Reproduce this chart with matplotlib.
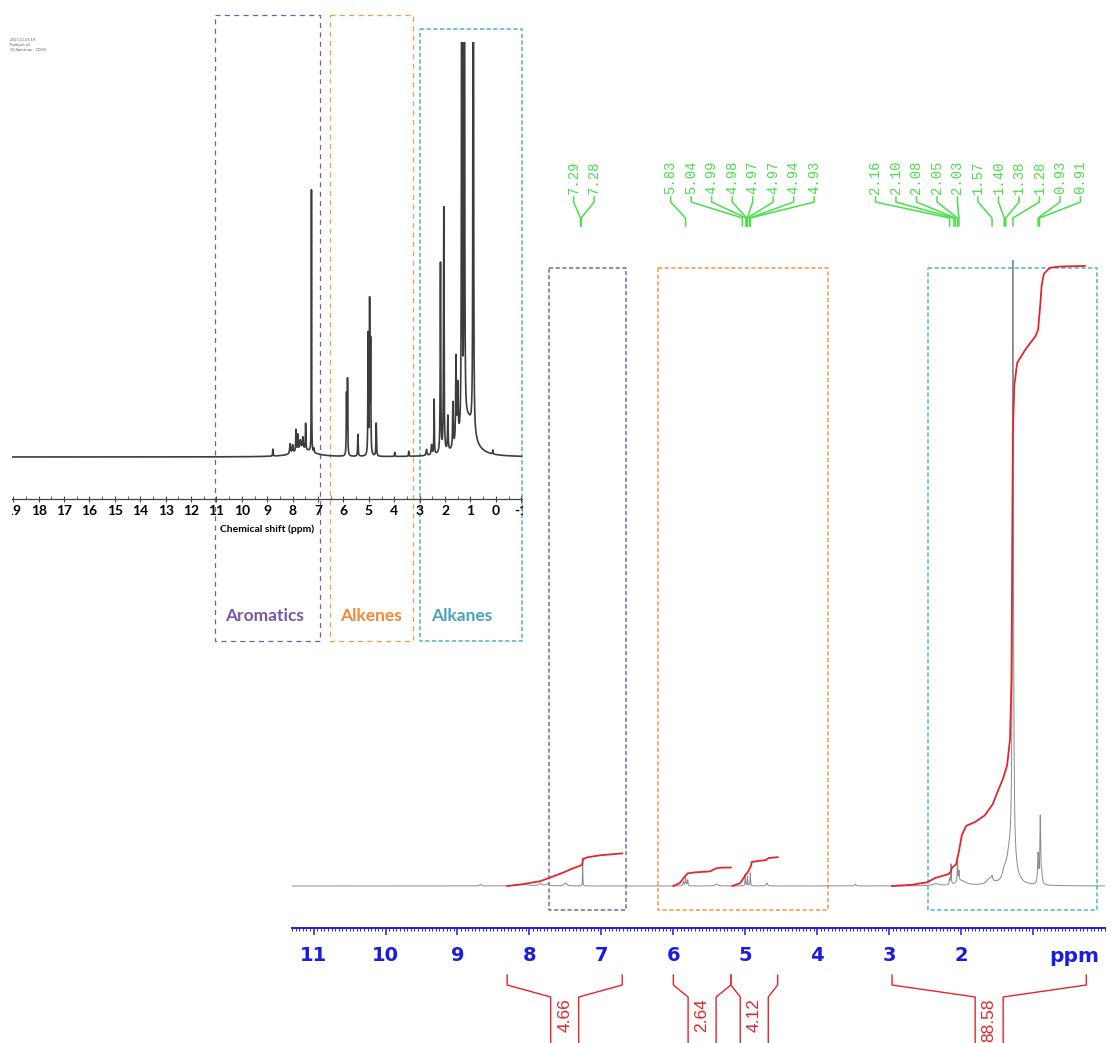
import numpy as np
import matplotlib
matplotlib.use("Agg")
import matplotlib.pyplot as plt
from matplotlib.ticker import FixedLocator, FixedFormatter, MultipleLocator
from matplotlib.transforms import blended_transform_factory, Bbox, TransformedBbox

W, H = 1111, 1043

# ---------------------------------------------------------------- data
# Overview spectrum (small panel): peak table, ppm / height / half-width
ov_ppm = [8.78, 8.10, 8.00, 7.87, 7.80, 7.70, 7.60, 7.49, 7.55, 7.26, 7.16,
          5.88, 5.84, 5.43, 5.03, 4.97, 4.93, 4.71, 3.98, 3.43,
          2.73, 2.53, 2.43, 2.18, 2.05, 1.89, 1.69, 1.57, 1.50,
          1.34, 1.24, 1.10, 0.89, 0.12]
ov_height = [7, 10, 8, 22, 16, 10, 12, 26, 7, 262, 4,
             60, 75, 22, 120, 150, 110, 33, 4, 5,
             6, 10, 55, 190, 245, 35, 45, 85, 55,
             1500, 1500, 36, 1500, 4]
ov_width = [0.01, 0.02, 0.02, 0.012, 0.012, 0.03, 0.02, 0.01, 0.45, 0.006, 0.01,
            0.01, 0.01, 0.012, 0.01, 0.01, 0.01, 0.012, 0.01, 0.01,
            0.02, 0.02, 0.01, 0.012, 0.012, 0.015, 0.015, 0.015, 0.02,
            0.008, 0.008, 0.28, 0.008, 0.01]
ov_ticks = list(range(-1, 20))
ov_regions = ["Aromatics", "Alkenes", "Alkanes"]
ov_region_lo = [11.05, 6.54, 2.97]
ov_region_hi = [6.93, 3.27, -1.02]

# 1H spectrum (large panel): peak table
sp_ppm = [8.68, 8.10, 7.85, 7.75, 7.50, 7.26,
          5.86, 5.83, 5.80, 5.40, 5.00, 4.97, 4.93, 4.70, 3.47,
          2.35, 2.16, 2.14, 2.05, 2.03, 2.00, 1.60, 1.57, 1.40, 1.34,
          1.28, 1.29, 0.93, 0.90, 0.88]
sp_height = [2, 1.5, 2.5, 2, 3, 28,
             4, 8, 6, 2, 12, 9, 13, 3, 1.5,
             2, 6, 20, 26, 10, 5, 6, 4, 8, 15,
             600, 22, 30, 66, 10]
sp_width = [0.01, 0.1, 0.02, 0.03, 0.02, 0.0025,
            0.006, 0.006, 0.006, 0.02, 0.004, 0.004, 0.004, 0.01, 0.01,
            0.05, 0.006, 0.004, 0.004, 0.005, 0.08, 0.05, 0.01, 0.03, 0.04,
            0.008, 0.06, 0.008, 0.006, 0.01]

# picked peaks, in three label groups
pick_groups = [[7.29, 7.28],
               [5.83, 5.04, 4.99, 4.98, 4.97, 4.97, 4.94, 4.93],
               [2.16, 2.10, 2.08, 2.05, 2.03, 1.57, 1.40, 1.38, 1.28, 0.93, 0.91]]

# integrated regions and their values
int_start = [8.31, 6.00, 5.20, 2.96]
int_end = [6.71, 5.20, 4.55, 0.26]
int_values = [4.66, 2.64, 4.12, 88.58]

# running integrals (fraction of region total vs ppm)
int_curve_ppm = [
    [8.31, 8.13, 7.85, 7.67, 7.53, 7.41, 7.30, 7.27, 7.255, 7.19, 7.02, 6.71],
    [6.00, 5.91, 5.85, 5.80, 5.70, 5.49, 5.41, 5.35, 5.20],
    [5.18, 5.07, 5.00, 4.96, 4.92, 4.91, 4.82, 4.71, 4.68, 4.55],
    [2.96, 2.68, 2.47, 2.36, 2.18, 2.14, 2.13, 2.07, 2.03, 1.99,
     1.93, 1.81, 1.67, 1.56, 1.49, 1.42, 1.36, 1.32, 1.30, 1.29,
     1.28, 1.26, 1.22, 1.09, 0.97, 0.93, 0.90, 0.88, 0.85, 0.77,
     0.63, 0.28],
]
int_curve_frac = [
    [0, 0.044, 0.147, 0.294, 0.412, 0.529, 0.618, 0.647, 0.824, 0.882, 0.941, 1.0],
    [0, 0.158, 0.474, 0.684, 0.737, 0.789, 0.947, 0.99, 1.0],
    [0, 0.1, 0.367, 0.5, 0.7, 0.833, 0.867, 0.9, 0.967, 1.0],
    [0, 0.002, 0.006, 0.013, 0.019, 0.023, 0.029, 0.035, 0.056, 0.082,
     0.097, 0.103, 0.114, 0.132, 0.153, 0.172, 0.195, 0.237, 0.333, 0.527,
     0.736, 0.808, 0.844, 0.868, 0.886, 0.897, 0.937, 0.969, 0.987, 0.997,
     0.999, 1.0],
]
sp_regions_lo = [7.73, 6.21, 2.46]
sp_regions_hi = [6.66, 3.85, 0.11]
sp_ticks = list(range(1, 12))

# ---------------------------------------------------------------- style
BLUE = "#1c1ce0"
RED = "#e3262b"
GREEN = "#4ade4a"
REG_COLORS_SMALL = ["#6e5f9e", "#f59a45", "#5cb8c8"]
REG_TEXT_COLORS = ["#7a58a6", "#f0893a", "#4aa3bf"]
REG_COLORS_BIG = ["#7d76b0", "#f5a04a", "#5bbccc"]
INT_SCALE = 7.0          # intensity units per integral unit
PX_PER_PPM = 813 / 11.3


def lorentz_sum(x, centers, heights, widths):
    y = np.zeros_like(x)
    for c, h, w in zip(centers, heights, widths):
        y += h * w ** 2 / ((x - c) ** 2 + w ** 2)
    return y


def fig_rect(x0, y0, x1, y1):
    return [x0 / W, 1 - y1 / H, (x1 - x0) / W, (y1 - y0) / H]


fig = plt.figure(figsize=(W / 100, H / 100), dpi=100)
fig.patch.set_facecolor("white")

# full-figure layer (pixel units, y downwards) for annotations
lay = fig.add_axes([0, 0, 1, 1])
lay.set_xlim(0, W)
lay.set_ylim(H, 0)
lay.axis("off")

# ---------------------------------------------------------------- small overview panel
axo = fig.add_axes(fig_rect(12, 42, 522, 499))
axo.patch.set_visible(False)
axo.set_xlim(19.05, -1.03)
axo.set_ylim(-42, 415)
xo = np.linspace(19.05, -1.03, 30000)
axo.plot(xo, lorentz_sum(xo, ov_ppm, ov_height, ov_width), color="#3c3c3c", lw=1.2)
for s in ["top", "left", "right"]:
    axo.spines[s].set_visible(False)
axo.spines["bottom"].set_color("#444444")
axo.spines["bottom"].set_linewidth(0.9)
axo.set_yticks([])
axo.xaxis.set_major_locator(FixedLocator(ov_ticks))
axo.xaxis.set_major_formatter(FixedFormatter([str(t) for t in ov_ticks]))
axo.xaxis.set_minor_locator(MultipleLocator(0.5))
axo.tick_params(axis="x", which="major", direction="inout", length=4, width=0.8,
                color="#444444", pad=2.5, labelsize=10)
axo.tick_params(axis="x", which="minor", direction="in", length=2, width=0.6, color="#444444")
for lab in axo.get_xticklabels():
    lab.set_fontfamily(["Lato", "DejaVu Sans"])
    lab.set_fontweight("bold")
cb = TransformedBbox(Bbox.from_extents(11.5 / W, 0, 523 / W, 1), fig.transFigure)
for t in axo.xaxis.get_major_ticks():
    t.label1.set_clip_box(cb)
    t.label1.set_clip_on(True)
axo.set_xlabel("Chemical shift (ppm)", fontsize=7.5, fontweight="bold",
               family=["Lato", "DejaVu Sans"], labelpad=5)

tro = blended_transform_factory(axo.transData, lay.transData)
box_tops = [15, 15, 29]
for i, name in enumerate(ov_regions):
    lo, hi = ov_region_lo[i], ov_region_hi[i]
    cyan = i == 2
    lay.plot([lo, hi, hi, lo, lo], [box_tops[i], box_tops[i], 641, 641, box_tops[i]],
             transform=tro, color=REG_COLORS_SMALL[i],
             lw=1.2 if cyan else 0.9,
             ls=(0, (2.5, 1.5)) if cyan else (0, (4, 3.5)))
label_ppm = [9.09, 4.90, 1.34]
for i, name in enumerate(ov_regions):
    lay.text(label_ppm[i], 616, name, transform=tro, ha="center", va="center",
             fontsize=12.5, fontweight="bold", color=REG_TEXT_COLORS[i],
             family=["Lato", "DejaVu Sans"])

lay.text(10, 38, "2017-11-03 1H\nPyrolysis oil\n1H Spectrum - CDCl3", fontsize=2.4,
         color="#555555", va="top", ha="left", linespacing=1.3)

# ---------------------------------------------------------------- main 1H spectrum
ax = fig.add_axes(fig_rect(292, 260, 1105, 928))
ax.patch.set_visible(False)
ax.set_xlim(11.3, 0.0)
ax.set_ylim(-42, 626)
xs = np.linspace(11.3, 0.0, 40000)
ax.plot(xs, lorentz_sum(xs, sp_ppm, sp_height, sp_width), color="#8a8a8a", lw=0.7)

for ppm, frac, val in zip(int_curve_ppm, int_curve_frac, int_values):
    ax.plot(ppm, np.array(frac) * val * INT_SCALE, color=RED, lw=1.3,
            solid_joinstyle="round")

for s in ["top", "left", "right"]:
    ax.spines[s].set_visible(False)
ax.spines["bottom"].set_color(BLUE)
ax.spines["bottom"].set_linewidth(1.4)
ax.set_yticks([])
ax.xaxis.set_major_locator(FixedLocator(sp_ticks))
ax.xaxis.set_major_formatter(FixedFormatter(["" if t == 1 else str(t) for t in sp_ticks]))
ax.xaxis.set_minor_locator(MultipleLocator(0.05))
ax.tick_params(axis="x", which="major", direction="out", length=5, width=1.1,
               color=BLUE, labelcolor=BLUE, labelsize=14, pad=8)
ax.tick_params(axis="x", which="minor", direction="out", length=2.2, width=0.7, color=BLUE)
for lab in ax.get_xticklabels():
    lab.set_fontweight("bold")

trm = blended_transform_factory(ax.transData, lay.transData)
lay.text(0.78, 957, "ppm", transform=trm, ha="left", va="center", fontsize=14.5,
         fontweight="bold", color=BLUE)

# region boxes
for i in range(3):
    lo, hi = sp_regions_lo[i], sp_regions_hi[i]
    lay.plot([lo, hi, hi, lo, lo], [268, 268, 910, 910, 268], transform=trm,
             color=REG_COLORS_BIG[i], lw=1.2, ls=(0, (2.5, 1.5)))

# peak-picking labels with leader lines
slot = 20.5 / PX_PER_PPM
group_shift = [-3 / PX_PER_PPM, -3 / PX_PER_PPM, 10 / PX_PER_PPM]
for g, peaks in enumerate(pick_groups):
    n = len(peaks)
    centre = np.mean(peaks) + group_shift[g]
    for i, p in enumerate(peaks):
        xl = centre + ((n - 1) / 2 - i) * slot
        lay.plot([xl, xl, p, p], [197, 202, 218, 226], transform=trm,
                 color=GREEN, lw=1.1)
        lay.text(xl, 194, f"{p:.2f}", transform=trm, rotation=90, ha="center",
                 va="bottom", fontsize=10, color=GREEN,
                 family=["Liberation Mono", "DejaVu Sans Mono"])

# integral brackets below the axis
half_gap = 14 / PX_PER_PPM
for p0, p1, val in zip(int_start, int_end, int_values):
    pm = (p0 + p1) / 2
    lay.plot([p0, p0, pm + half_gap, pm + half_gap], [975, 985, 997, 1050],
             transform=trm, color=RED, lw=1.0)
    lay.plot([p1, p1, pm - half_gap, pm - half_gap], [975, 985, 997, 1050],
             transform=trm, color=RED, lw=1.0)
    lay.text(pm, 998, f"{val:.2f}", transform=trm, rotation=90, ha="center",
             va="top", fontsize=12.5, color=RED, family=["Liberation Sans"])

fig.savefig("out.png", dpi=100, facecolor="white")
